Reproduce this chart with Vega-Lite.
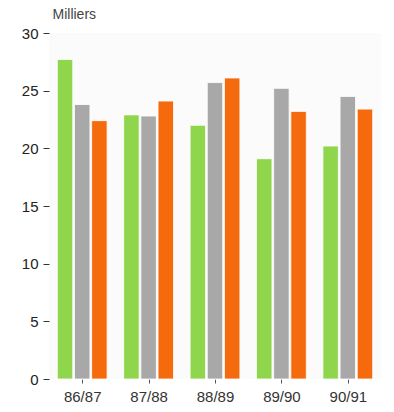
{
  "$schema": "https://vega.github.io/schema/vega-lite/v6.json",
  "autosize": "none",
  "width": 332,
  "height": 346,
  "padding": {"left": 49, "top": 33, "right": 13, "bottom": 33},
  "background": "#ffffff",
  "config": {
    "view": {"stroke": null, "fill": "#fbfbfb"},
    "font": "Liberation Sans"
  },
  "data": {
    "values": [
      {"annee": "86/87", "serie": "A", "valeur": 27.7},
      {"annee": "86/87", "serie": "B", "valeur": 23.8},
      {"annee": "86/87", "serie": "C", "valeur": 22.4},
      {"annee": "87/88", "serie": "A", "valeur": 22.9},
      {"annee": "87/88", "serie": "B", "valeur": 22.8},
      {"annee": "87/88", "serie": "C", "valeur": 24.1},
      {"annee": "88/89", "serie": "A", "valeur": 22.0},
      {"annee": "88/89", "serie": "B", "valeur": 25.7},
      {"annee": "88/89", "serie": "C", "valeur": 26.1},
      {"annee": "89/90", "serie": "A", "valeur": 19.1},
      {"annee": "89/90", "serie": "B", "valeur": 25.2},
      {"annee": "89/90", "serie": "C", "valeur": 23.2},
      {"annee": "90/91", "serie": "A", "valeur": 20.2},
      {"annee": "90/91", "serie": "B", "valeur": 24.5},
      {"annee": "90/91", "serie": "C", "valeur": 23.4}
    ]
  },
  "mark": {"type": "bar", "stroke": "#ffffff", "strokeWidth": 0.8},
  "encoding": {
    "x": {
      "field": "annee",
      "type": "nominal",
      "scale": {"paddingInner": 0.25, "paddingOuter": 0.125},
      "axis": {
        "title": null,
        "labelAngle": 0,
        "domain": false,
        "ticks": true,
        "tickSize": 4,
        "tickOffset": 0,
        "tickColor": "#555",
        "labelFontSize": 15,
        "labelColor": "#333",
        "labelPadding": 6
      }
    },
    "xOffset": {"field": "serie", "type": "nominal", "scale": {"paddingInner": 0.1}},
    "y": {
      "field": "valeur",
      "type": "quantitative",
      "scale": {"domain": [0, 30], "nice": false},
      "axis": {
        "values": [0, 5, 10, 15, 20, 25, 30],
        "grid": false,
        "domain": false,
        "tickSize": 6,
        "tickColor": "#333",
        "tickOffset": 0,
        "labelFontSize": 15,
        "labelColor": "#222",
        "labelPadding": 5,
        "title": "Milliers",
        "titleAngle": 0,
        "titleAlign": "left",
        "titleBaseline": "alphabetic",
        "titleX": 3,
        "titleY": -15,
        "titleFontSize": 14,
        "titleFontWeight": "normal",
        "titleColor": "#444"
      }
    },
    "color": {
      "field": "serie",
      "type": "nominal",
      "scale": {"domain": ["A", "B", "C"], "range": ["#8fd64c", "#a8a8a8", "#f56a0c"]},
      "legend": null
    }
  }
}
